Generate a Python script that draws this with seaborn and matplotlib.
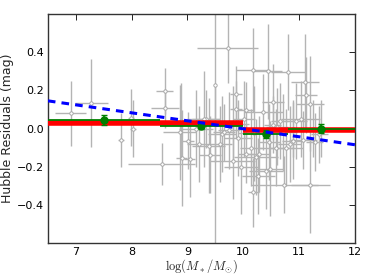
import numpy as np
import pandas as pd
import matplotlib
matplotlib.use("Agg")
import matplotlib.pyplot as plt
import seaborn as sns

# individual SN host galaxies: log stellar mass, Hubble residual and errors
mass = [6.91, 7.28, 7.81, 7.99, 8.02, 8.54, 8.59, 8.60, 8.90, 9.01,
        9.04, 9.49, 9.72, 9.87, 9.87, 9.38, 9.40, 9.33, 9.81, 10.17,
        10.44, 10.80, 11.11, 11.12, 11.03, 11.20, 10.18, 10.73, 11.20, 10.27,
        10.28, 10.05, 10.53, 10.53, 10.59, 10.89, 10.89, 11.28, 9.81, 9.96,
        10.41, 10.48, 10.14, 10.36, 9.62, 9.59, 10.04, 9.75, 10.20, 10.72,
        10.83, 10.46, 11.36, 9.15, 8.86, 8.89, 10.23, 9.20, 9.66, 9.29,
        9.50, 10.65, 10.95, 10.77, 11.07, 10.01, 11.40, 11.25, 9.90, 10.60]
mass_err = [0.28, 0.30, 0.05, 0.05, 0.05, 0.60, 0.15, 0.25, 0.10, 0.10,
            0.10, 0.02, 0.55, 0.10, 0.10, 0.30, 0.20, 0.25, 0.30, 0.30,
            0.25, 0.30, 0.25, 0.20, 0.35, 0.25, 0.10, 0.60, 0.35, 0.30,
            0.20, 0.15, 0.20, 0.15, 0.30, 0.15, 0.20, 0.15, 0.40, 0.30,
            0.30, 0.25, 0.20, 0.35, 0.25, 0.20, 0.15, 0.20, 0.30, 0.25,
            0.20, 0.20, 0.15, 0.30, 0.30, 0.20, 0.40, 0.20, 0.20, 0.30,
            0.30, 0.15, 0.20, 0.30, 0.25, 0.20, 0.15, 0.15, 0.25, 0.20]
hr = [0.08, 0.135, -0.06, 0.056, 0.0, -0.186, 0.196, 0.105, -0.155, -0.063,
      -0.16, 0.23, 0.42, 0.10, 0.18, -0.09, -0.137, 0.05, 0.025, 0.305,
      0.30, 0.296, 0.245, 0.177, 0.05, 0.13, -0.335, -0.295, -0.295, -0.25,
      -0.133, -0.133, 0.138, 0.02, -0.10, 0.0, -0.063, -0.07, -0.17, -0.20,
      -0.22, -0.21, -0.10, 0.086, -0.03, -0.08, 0.095, -0.01, -0.025, -0.02,
      -0.08, -0.07, -0.03, 0.0, -0.02, 0.04, -0.15, -0.08, -0.02, 0.05,
      0.025, 0.04, 0.04, -0.10, -0.06, 0.05, 0.0, 0.0, -0.05, 0.01]
hr_err = [0.17, 0.23, 0.14, 0.15, 0.15, 0.11, 0.12, 0.10, 0.25, 0.15,
          0.20, 0.90, 0.18, 0.15, 0.15, 0.25, 0.20, 0.15, 0.20, 0.22,
          0.25, 0.20, 0.25, 0.20, 0.20, 0.25, 0.18, 0.15, 0.25, 0.20,
          0.20, 0.15, 0.20, 0.15, 0.20, 0.15, 0.20, 0.15, 0.20, 0.25,
          0.20, 0.25, 0.20, 0.20, 0.20, 0.20, 0.15, 0.20, 0.25, 0.20,
          0.20, 0.20, 0.15, 0.20, 0.25, 0.20, 0.20, 0.20, 0.15, 0.25,
          0.20, 0.20, 0.20, 0.20, 0.15, 0.20, 0.15, 0.15, 0.20, 0.20]

# binned weighted means
bin_mass = [7.5, 9.25, 10.4, 11.4]
bin_lo = [6.5, 8.5, 10.0, 10.8]
bin_hi = [8.5, 10.0, 10.8, 12.0]
bin_hr = [0.045, 0.015, -0.03, 0.0]
bin_err = [0.028, 0.018, 0.020, 0.022]

# two-step model
step_lo = [6.5, 10.0]
step_hi = [10.0, 12.0]
step_hr = [0.03, -0.01]

# linear fit
fit_mass = [6.5, 12.0]
fit_hr = [0.145, -0.085]

sns.set_style("white")
plt.rcParams['mathtext.fontset'] = 'cm'
plt.rcParams['font.family'] = ['DejaVu Sans']

fig = plt.figure(figsize=(3.74, 2.8), dpi=100)
ax = fig.add_axes([0.128, 0.132, 0.821, 0.818])

ax.errorbar(mass, hr, xerr=mass_err, yerr=hr_err, fmt='none',
            ecolor='#b4b4b4', elinewidth=1.0, zorder=1)
df = pd.DataFrame({'mass': mass, 'hr': hr})
sns.scatterplot(data=df, x='mass', y='hr', ax=ax, s=6, marker='o',
                facecolor='white', edgecolor='#a0a0a0', linewidth=0.6, zorder=2)

ax.hlines(step_hr, step_lo, step_hi, colors='red', linewidth=4, zorder=3)

bin_x_lo = np.array(bin_mass) - np.array(bin_lo)
bin_x_hi = np.array(bin_hi) - np.array(bin_mass)
ax.errorbar(bin_mass, bin_hr, xerr=[bin_x_lo, bin_x_hi], fmt='none',
            ecolor='green', elinewidth=1.3, zorder=4)
ax.errorbar(bin_mass, bin_hr, yerr=bin_err, fmt='o', color='green',
            ms=5, elinewidth=1.2, capsize=2, capthick=1, zorder=5)

fit = pd.DataFrame({'mass': fit_mass, 'hr': fit_hr})
sns.lineplot(data=fit, x='mass', y='hr', ax=ax, color='blue',
             linewidth=2.2, linestyle=(0, (2.5, 2)), zorder=6)

ax.set_xlim(6.5, 12)
ax.set_ylim(-0.6, 0.6)
ax.set_xticks([7, 8, 9, 10, 11, 12])
ax.set_yticks([-0.4, -0.2, 0.0, 0.2, 0.4])
ax.set_yticklabels(['\u22120.4', '\u22120.2', '0.0', '0.2', '0.4'])
ax.tick_params(direction='in', top=True, right=True, length=4,
               width=0.6, labelsize=8, colors='black', pad=3)
for s in ax.spines.values():
    s.set_color('#333333')
    s.set_linewidth(1.0)
ax.set_xlabel(r'$\log(M_*/M_{\odot})$', fontsize=9, labelpad=0)
ax.set_ylabel('Hubble Residuals (mag)', fontsize=9)
ax.yaxis.set_label_coords(-0.11, 0.5)

fig.savefig('out.png', dpi=100)
